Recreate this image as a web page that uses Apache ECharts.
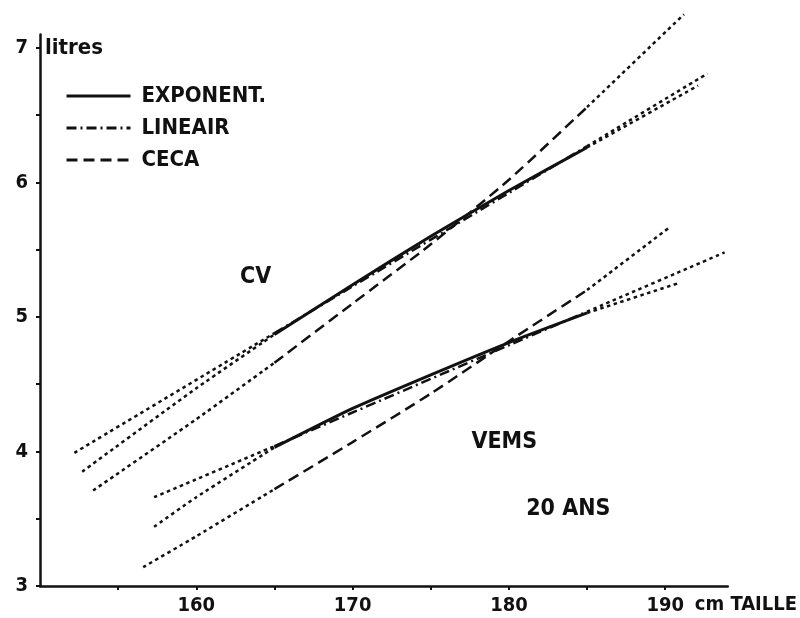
<!DOCTYPE html>
<html><head><meta charset="utf-8">
<script src="https://cdn.jsdelivr.net/npm/echarts@6/dist/echarts.min.js"></script>
<style>html,body{margin:0;padding:0;background:#fff}#c{width:800px;height:618px}</style>
</head><body><div id="c"></div>
<script>
// ---- data ----
const measuredRange = [165, 185];          // heights where fits are drawn with their own style
const cvLinear     = [[152.2,3.99],[165,4.88],[185,6.27],[192.7,6.81]];
const cvExponent   = [[152.7,3.85],[160,4.47],[165,4.87],[170,5.24],[175,5.60],[180,5.94],[185,6.26],[192.1,6.72]];
const cvCeca       = [[153.4,3.71],[160,4.24],[165,4.66],[170,5.10],[175,5.54],[180,6.02],[185,6.56],[191.2,7.25]];
const vemsLinear   = [[157.3,3.66],[165,4.04],[185,5.04],[193.8,5.48]];
const vemsExponent = [[157.3,3.44],[160,3.66],[165,4.03],[170,4.32],[175,4.57],[180,4.81],[185,5.03],[190.8,5.25]];
const vemsCeca     = [[156.6,3.14],[160,3.37],[165,3.72],[170,4.07],[175,4.43],[180,4.82],[185,5.20],[190.2,5.66]];
const xTickLabels = [160,170,180,190];
const yTickLabels = [3,4,5,6,7];
const legendNames = ['EXPONENT.','LINEAIR','CECA'];
const xName = 'cm TAILLE';
const yName = 'litres';
const annotations = [
  {text:'CV', at:[163.8,5.30]},
  {text:'VEMS', at:[179.7,4.07]},
  {text:'20 ANS', at:[183.8,3.57]}
];

// ---- styles ----
const INK = '#111';
const FONT = "'DejaVu Sans Condensed','DejaVu Sans',sans-serif";
const styles = {
  'EXPONENT.': {type:'solid', width:3, z:5},
  'LINEAIR':   {type:[10,4,2,4], width:2.5, z:4},
  'CECA':      {type:[11,6], width:2.5, z:3}
};
const dotted = {type:[3.5,3.5], width:2.5};

function buildSeries(points, name, group) {
  const left = points.filter(p => p[0] <= measuredRange[0]);
  const mid = points.filter(p => p[0] >= measuredRange[0] && p[0] <= measuredRange[1]);
  const right = points.filter(p => p[0] >= measuredRange[1]);
  const st = styles[name];
  const base = {type:'line', symbol:'none', clip:false, smooth:0.2, animation:false, silent:true};
  return [
    Object.assign({}, base, {name: group+' '+name+' (extrapol.)', data:left, z:2,
      lineStyle:{color:INK, width:dotted.width, type:dotted.type}}),
    Object.assign({}, base, {name: group+' '+name+' (extrapol. )', data:right, z:2,
      lineStyle:{color:INK, width:dotted.width, type:dotted.type}}),
    Object.assign({}, base, {name: name, data:mid, z:st.z,
      itemStyle:{color:INK},
      lineStyle:{color:INK, width:st.width, type:st.type}})
  ];
}

const series = [].concat(
  buildSeries(cvCeca,'CECA','CV'),
  buildSeries(vemsCeca,'CECA','VEMS'),
  buildSeries(cvLinear,'LINEAIR','CV'),
  buildSeries(vemsLinear,'LINEAIR','VEMS'),
  buildSeries(cvExponent,'EXPONENT.','CV'),
  buildSeries(vemsExponent,'EXPONENT.','VEMS')
);

const chart = echarts.init(document.getElementById('c'), null, {renderer:'canvas'});
const axisText = {color:INK, fontFamily:FONT, fontWeight:'bold', fontSize:20};
chart.setOption({
  backgroundColor:'#fff',
  animation:false,
  grid:{left:40, right:70, top:34.5, bottom:32, containLabel:false},
  legend:{
    data:legendNames, orient:'vertical', left:60, top:80,
    itemWidth:64, itemHeight:14, itemGap:10, selectedMode:false,
    itemStyle:{opacity:0},
    lineStyle:{width:3},
    textStyle:{color:INK, fontFamily:FONT, fontWeight:'bold', fontSize:22, lineHeight:22, padding:[0,0,0,6]}
  },
  xAxis:{
    type:'value', min:150, max:194, interval:5,
    name:xName, nameLocation:'end', nameGap:-33,
    nameTextStyle:Object.assign({}, axisText, {verticalAlign:'top', align:'left', padding:[9,0,0,0]}),
    axisLine:{show:true, lineStyle:{color:INK, width:2.5}},
    axisTick:{show:true, length:4, lineStyle:{color:INK, width:2}},
    splitLine:{show:false},
    axisLabel:Object.assign({}, axisText, {margin:10, showMaxLabel:false, showMinLabel:false,
      formatter: v => xTickLabels.indexOf(v) >= 0 ? String(v) : ''})
  },
  yAxis:{
    type:'value', min:3, max:7.1, interval:0.5,
    name:yName, nameLocation:'end', nameGap:-14,
    nameTextStyle:Object.assign({}, axisText, {fontSize:22, align:'left', verticalAlign:'middle', padding:[0,0,0,5]}),
    axisLine:{show:true, lineStyle:{color:INK, width:2.5}},
    axisTick:{show:true, length:4, lineStyle:{color:INK, width:2}},
    splitLine:{show:false},
    axisLabel:Object.assign({}, axisText, {margin:12, showMaxLabel:false,
      formatter: v => yTickLabels.indexOf(v) >= 0 ? String(v) : ''})
  },
  series: series
});

const graphics = annotations.map(a => {
  const p = chart.convertToPixel({gridIndex:0}, a.at);
  return {type:'text', x:p[0], y:p[1], silent:true,
    style:{text:a.text, fill:INK, font:"bold 23px "+FONT, textAlign:'center', textVerticalAlign:'middle'}};
});
chart.setOption({graphic:graphics});
</script>
</body></html>
